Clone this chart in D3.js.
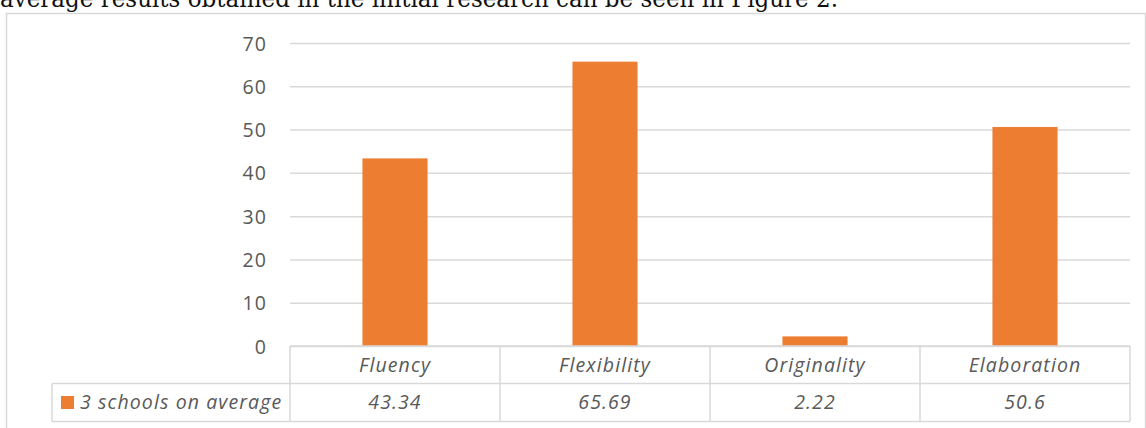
<!DOCTYPE html>
<html>
<head>
<meta charset="utf-8">
<script src="https://cdn.jsdelivr.net/npm/d3@7"></script>
<style>
  html, body { margin: 0; padding: 0; background: #fff; overflow: hidden; }
  svg { display: block; }
</style>
</head>
<body>
<svg id="chart" width="1146" height="428"></svg>
<script>
// Creativity indicators, averaged over three schools
const categories = ["Fluency", "Flexibility", "Originality", "Elaboration"];
const seriesName = "3 schools on average";
const seriesValues = [43.34, 65.69, 2.22, 50.6];
const valueLabels = ["43.34", "65.69", "2.22", "50.6"];
const yTicks = [0, 10, 20, 30, 40, 50, 60, 70];
const captionText = "average results obtained in the initial research can be seen in Figure 2.";

const svg = d3.select("#chart");
const gridColor = "#d9d9d9";
const textColor = "#595959";
const barColor = "#ED7D31";
const uiFont = "'Open Sans', 'Noto Sans', sans-serif";
const uiSize = 19.5;
const uiSpacing = 1.1;

// Running body text above the figure
svg.append("text")
  .attr("x", 0).attr("y", 7)
  .attr("font-family", "'DejaVu Serif', serif")
  .attr("font-size", 25)
  .attr("fill", "#111")
  .attr("textLength", 838)
  .attr("lengthAdjust", "spacingAndGlyphs")
  .text(captionText);

// Chart area frame
svg.append("rect")
  .attr("x", 6.5).attr("y", 13.5)
  .attr("width", 1139).attr("height", 430)
  .attr("fill", "none")
  .attr("stroke", gridColor)
  .attr("stroke-width", 1.5);

const plot = { left: 290, right: 1130, top: 43, bottom: 346 };

const x = d3.scaleBand()
  .domain(categories)
  .range([plot.left, plot.right])
  .paddingInner(0)
  .paddingOuter(0);

const y = d3.scaleLinear()
  .domain([0, 70])
  .range([plot.bottom, plot.top]);

// Horizontal gridlines and value axis
const yAxis = d3.axisLeft(y)
  .tickValues(yTicks)
  .tickSize(-(plot.right - plot.left))
  .tickPadding(23)
  .tickFormat(d3.format("d"));

const gy = svg.append("g")
  .attr("transform", `translate(${plot.left},0)`)
  .call(yAxis);
gy.select(".domain").remove();
gy.selectAll(".tick line")
  .attr("stroke", gridColor)
  .attr("stroke-width", 1.5);
gy.selectAll(".tick text")
  .attr("fill", textColor)
  .attr("font-family", uiFont)
  .attr("font-size", uiSize)
  .attr("letter-spacing", uiSpacing)
  .attr("dy", "0.36em");

// Bars
const barW = x.bandwidth() * 0.31;
svg.append("g").selectAll("rect")
  .data(categories.map((c, i) => ({ c, v: seriesValues[i] })))
  .join("rect")
  .attr("x", d => x(d.c) + (x.bandwidth() - barW) / 2)
  .attr("y", d => y(d.v))
  .attr("width", barW)
  .attr("height", d => y(0) - y(d.v))
  .attr("fill", barColor);

// Data table under the axis
const rowTop = plot.bottom, rowMid = 383.5, rowBottom = 421.5;
const legendLeft = 52;
const table = svg.append("g")
  .attr("stroke", gridColor)
  .attr("stroke-width", 1.5)
  .attr("fill", "none");

table.append("line")
  .attr("x1", plot.left).attr("x2", plot.right)
  .attr("y1", rowTop).attr("y2", rowTop);
table.append("line")
  .attr("x1", legendLeft).attr("x2", plot.right)
  .attr("y1", rowMid).attr("y2", rowMid);
table.append("line")
  .attr("x1", legendLeft).attr("x2", plot.right)
  .attr("y1", rowBottom).attr("y2", rowBottom);
table.append("line")
  .attr("x1", legendLeft).attr("x2", legendLeft)
  .attr("y1", rowMid).attr("y2", rowBottom);

const dividers = categories.map(c => x(c)).concat([plot.right]);
table.selectAll("line.div")
  .data(dividers)
  .join("line")
  .attr("class", "div")
  .attr("x1", d => d).attr("x2", d => d)
  .attr("y1", rowTop).attr("y2", rowBottom);

// Shared italic label style for the table cells
function cellText(sel) {
  sel.attr("font-family", uiFont)
    .attr("font-style", "italic")
    .attr("font-size", uiSize)
    .attr("letter-spacing", uiSpacing)
    .attr("fill", textColor);
}

// Category names
svg.append("g").selectAll("text")
  .data(categories)
  .join("text")
  .attr("x", d => x(d) + x.bandwidth() / 2)
  .attr("y", 372)
  .attr("text-anchor", "middle")
  .call(cellText)
  .text(d => d);

// Values row
svg.append("g").selectAll("text")
  .data(categories.map((c, i) => ({ c, t: valueLabels[i] })))
  .join("text")
  .attr("x", d => x(d.c) + x.bandwidth() / 2)
  .attr("y", 409)
  .attr("text-anchor", "middle")
  .call(cellText)
  .text(d => d.t);

// Legend key
svg.append("rect")
  .attr("x", 61).attr("y", 396)
  .attr("width", 13).attr("height", 13)
  .attr("fill", barColor);
svg.append("text")
  .attr("x", 80).attr("y", 409)
  .call(cellText)
  .text(seriesName);
</script>
</body>
</html>
